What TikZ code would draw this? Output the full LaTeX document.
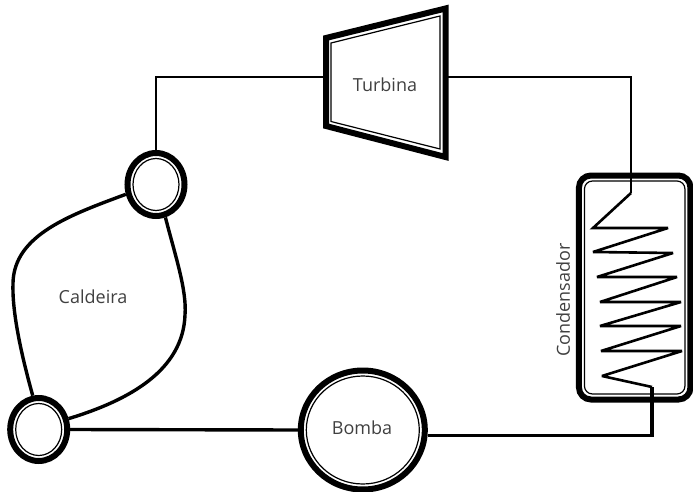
\documentclass[tikz,border=0pt]{standalone}
\usepackage{fontspec}
\setmainfont{Open Sans}
\usetikzlibrary{shapes,arrows,positioning}

\begin{document}
\begin{tikzpicture}[x=1pt,y=-1pt,
  vessel/.style 2 args={ellipse, draw=black, line width=6pt, inner sep=0pt, minimum width=#1pt, minimum height=#2pt,
    path picture={\draw[line width=1.2pt] (path picture bounding box.center) ellipse [x radius={(#1/2-5.5)*1pt}, y radius={(#2/2-5.5)*1pt}];}},
  tank/.style={rectangle, draw=black, line width=6pt, rounded corners=12pt, inner sep=0pt, minimum width=111.5pt, minimum height=224pt,
    path picture={\draw[line width=1.2pt, rounded corners=8pt] ([shift={(5.5pt,5.5pt)}]path picture bounding box.south west) rectangle ([shift={(-5.5pt,-5.5pt)}]path picture bounding box.north east);}},
  label/.style={text=black!75, font=\fontsize{18}{20}\selectfont, inner sep=0pt},
  pipe/.style={draw=black, line width=2.2pt},
  coil/.style={draw=black, line width=2.6pt, miter limit=3},
  mainpipe/.style={draw=black, line width=3.4pt}]
\useasboundingbox (0,0) rectangle (693,492);
%Nodes
\node[vessel={57}{63}]    (drumtop) at (156,184.5) {};
\node[vessel={57}{63}]    (drumbot) at (38.7,429.5) {};
\node[vessel={124}{119}]  (bomba)   at (362.8,430) {};
\node[tank]               (cond)    at (634.7,287.5) {};
\node[label]              (tlabel)  at (385,85)  {Turbina};
\node[label]              (clabel)  at (93,297)  {Caldeira};
\node[label]              (blabel)  at (362,428) {Bomba};
\node[label,rotate=90]    (dlabel)  at (563,300) {Condensador};
\coordinate (turbin)  at (323,77);
\coordinate (turbout) at (448,77);
\coordinate (coilin)  at (631,193);
\coordinate (coilout) at (652,387);

%Turbine
\draw[line width=6pt, miter limit=10] (326,38) -- (445.5,8.5) -- (445.5,157) -- (326,126) -- cycle;
\draw[line width=1.2pt] (331,43) -- (440,16) -- (440,149) -- (331,121.5) -- cycle;

%Pipes
\draw[pipe] (drumtop.north) |- (turbin);
\draw[pipe] (turbout) -| (coilin);
\draw[coil] (coilin) -- (593,228) -- (668,228) -- (593,252) -- (673,253) -- (597,277)
  -- (677,277) -- (600,302) -- (681,302) -- (600,326) -- (681,326) -- (601,351)
  -- (682,351) -- (602,376) -- (coilout);
\draw[mainpipe] (coilout) |- (bomba.-5);
\draw[mainpipe] (drumbot.east) -- (bomba.west);

%Boiler
\draw[mainpipe] (drumtop.198) .. controls (70,215) and (14,235) .. (13,283) .. controls (12,310) and (20,350) .. (drumbot.100);
\draw[mainpipe] (drumtop.-74) .. controls (175,255) and (187,290) .. (185,315) .. controls (183,370) and (130,400) .. (drumbot.20);
\end{tikzpicture}
\end{document}
